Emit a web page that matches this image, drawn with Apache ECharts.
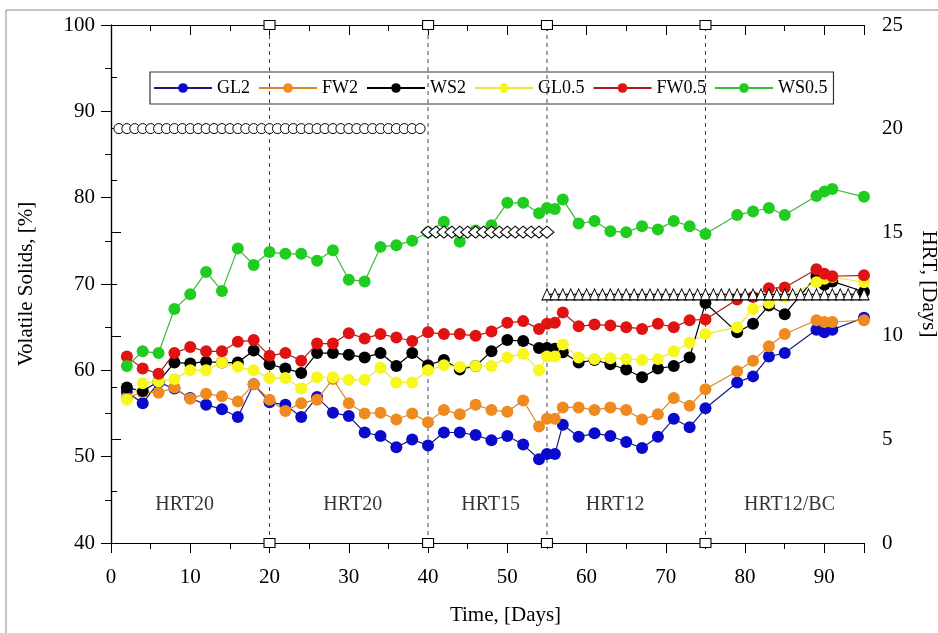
<!DOCTYPE html>
<html>
<head>
<meta charset="utf-8">
<script src="https://cdn.jsdelivr.net/npm/echarts@6/dist/echarts.min.js"></script>
<style>
	html, body { margin: 0; padding: 0; background: #fff; }
	#chart { width: 938px; height: 633px; }
</style>
</head>
<body>
<div id="chart"></div>
<script>
var days = [2, 4, 6, 8, 10, 12, 14, 16, 18, 20, 22, 24, 26, 28, 30, 32, 34, 36, 38, 40, 42, 44, 46, 48, 50, 52, 54, 55, 56, 57, 59, 61, 63, 65, 67, 69, 71, 73, 75, 79, 81, 83, 85, 89, 90, 91, 95];

var gl2 = [57.5, 56.2, 58.6, 57.9, 56.8, 56.0, 55.5, 54.6, 58.4, 56.3, 56.0, 54.6, 56.9, 55.1, 54.7, 52.8, 52.4, 51.1, 52.0, 51.3, 52.8, 52.8, 52.5, 51.9, 52.4, 51.4, 49.7, 50.3, 50.3, 53.7, 52.3, 52.7, 52.4, 51.7, 51.0, 52.3, 54.4, 53.4, 55.6, 58.6, 59.3, 61.6, 62.0, 64.7, 64.4, 64.7, 66.1];
var fw2 = [56.8, 57.5, 57.4, 58.0, 56.7, 57.3, 57.0, 56.4, 58.4, 56.6, 55.3, 56.2, 56.6, 59.0, 56.2, 55.0, 55.1, 54.3, 55.0, 54.0, 55.4, 54.9, 56.0, 55.4, 55.2, 56.5, 53.5, 54.4, 54.4, 55.7, 55.7, 55.4, 55.7, 55.4, 54.3, 54.9, 56.8, 55.9, 57.8, 59.9, 61.1, 62.8, 64.2, 65.8, 65.6, 65.6, 65.8];
var ws2 = [58.0, 57.6, 58.7, 60.9, 60.8, 61.0, 60.9, 60.9, 62.3, 60.7, 60.2, 59.7, 62.0, 62.0, 61.8, 61.5, 62.0, 60.5, 62.0, 60.6, 61.2, 60.1, 60.5, 62.2, 63.5, 63.4, 62.6, 62.6, 62.5, 62.1, 60.9, 61.2, 60.7, 60.1, 59.2, 60.2, 60.5, 61.5, 67.8, 64.4, 65.4, 67.5, 66.5, 70.9, 69.9, 70.3, 69.1];
var gl05 = [56.6, 58.5, 58.7, 59.0, 60.0, 60.0, 60.9, 60.4, 60.0, 59.1, 59.1, 57.9, 59.2, 59.2, 58.9, 58.9, 60.3, 58.6, 58.6, 60.0, 60.6, 60.4, 60.5, 60.5, 61.5, 61.9, 60.0, 61.6, 61.6, 63.0, 61.5, 61.3, 61.4, 61.3, 61.2, 61.3, 62.2, 63.2, 64.2, 65.0, 67.1, 67.8, 68.5, 70.2, 70.6, 70.8, 70.2];
var fw05 = [61.6, 60.2, 59.6, 62.0, 62.7, 62.2, 62.2, 63.3, 63.5, 61.7, 62.0, 61.1, 63.1, 63.1, 64.3, 63.7, 64.2, 63.8, 63.4, 64.4, 64.2, 64.2, 64.0, 64.5, 65.5, 65.7, 64.8, 65.4, 65.5, 66.7, 65.1, 65.3, 65.2, 65.0, 64.8, 65.4, 65.0, 65.8, 65.9, 68.2, 68.5, 69.5, 69.6, 71.7, 71.2, 70.9, 71.0];
var ws05 = [60.5, 62.2, 62.0, 67.1, 68.8, 71.4, 69.2, 74.1, 72.2, 73.7, 73.5, 73.5, 72.7, 73.9, 70.5, 70.3, 74.3, 74.5, 75.0, 76.0, 77.2, 74.9, 76.2, 76.8, 79.4, 79.4, 78.2, 78.8, 78.7, 79.8, 77.0, 77.3, 76.1, 76.0, 76.7, 76.3, 77.3, 76.7, 75.8, 78.0, 78.4, 78.8, 78.0, 80.2, 80.7, 81.0, 80.1];

var seriesNames = ['GL2', 'FW2', 'WS2', 'GL0.5', 'FW0.5', 'WS0.5'];
var seriesColors = ['#0a0acd', '#ef8a21', '#000000', '#f7f71e', '#e01212', '#1fcc1f'];
var lineColors = ['#1a1a7a', '#d9872a', '#000000', '#e8e83a', '#a81c1c', '#3cb83c'];
var seriesValues = [gl2, fw2, ws2, gl05, fw05, ws05];

// HRT (right axis)
var hrt20Days = [1, 2, 3, 4, 5, 6, 7, 8, 9, 10, 11, 12, 13, 14, 15, 16, 17, 18, 19, 20, 21, 22, 23, 24, 25, 26, 27, 28, 29, 30, 31, 32, 33, 34, 35, 36, 37, 38, 39];
var hrt15Days = [40, 41, 42, 43, 44, 45, 46, 47, 48, 49, 50, 51, 52, 53, 54, 55];
var hrt12Days = [55, 56, 57, 58, 59, 60, 61, 62, 63, 64, 65, 66, 67, 68, 69, 70, 71, 72, 73, 74, 75, 76, 77, 78, 79, 80, 81, 82, 83, 84, 85, 86, 87, 88, 89, 90, 91, 92, 93, 94, 95];
var phaseChangeDays = [20, 40, 55, 75];
var hrtRange = [0, 25];

var phaseNames = ['HRT20', 'HRT20', 'HRT15', 'HRT12', 'HRT12/BC'];
var phaseLabelDays = [9.3, 30.5, 47.9, 63.6, 85.6];
var phaseLabelLevel = 44.4;

var xTicks = { min: 0, max: 95, interval: 10 };
var vsTicks = { min: 40, max: 100, interval: 10 };
var hrtTicks = { min: 0, max: 25, interval: 5 };

var FONT = '"Liberation Serif", "DejaVu Serif", serif';

var chart = echarts.init(document.getElementById('chart'));

function pairs(xs, ys) {
	return xs.map(function (x, i) { return [x, ys[i]]; });
}
function level(xs, v) {
	return xs.map(function (x) { return [x, v]; });
}

var series = [];

seriesNames.forEach(function (name, i) {
	series.push({
		name: name,
		type: 'line',
		xAxisIndex: 0,
		yAxisIndex: 0,
		data: pairs(days, seriesValues[i]),
		symbol: 'circle',
		symbolSize: 12,
		itemStyle: { color: seriesColors[i], borderColor: seriesColors[i], borderWidth: 0 },
		lineStyle: { color: lineColors[i], width: 1.2 },
		z: 3 + i,
		animation: false
	});
});

phaseChangeDays.forEach(function (d) {
	series.push({
		type: 'line',
		xAxisIndex: 0,
		yAxisIndex: 1,
		data: [[d, hrtRange[0]], [d, hrtRange[1]]],
		symbol: 'rect',
		symbolSize: [11, 9],
		clip: false,
		itemStyle: { color: '#fff', borderColor: '#000', borderWidth: 1 },
		lineStyle: { color: '#444', width: 1, type: [4, 4] },
		z: 2,
		silent: true,
		animation: false
	});
});

var hrtMarkers = [
	{ days: hrt20Days, v: 20, symbol: 'circle', size: 10 },
	{ days: hrt15Days, v: 15, symbol: 'diamond', size: [14, 12] },
	{ days: hrt12Days, v: 12, symbol: 'triangle', size: [10, 11] }
];
hrtMarkers.forEach(function (h) {
	series.push({
		type: 'line',
		xAxisIndex: 0,
		yAxisIndex: 1,
		data: level(h.days, h.v),
		symbol: h.symbol,
		symbolSize: h.size,
		showAllSymbol: true,
		itemStyle: { color: '#fff', borderColor: '#000', borderWidth: 1 },
		lineStyle: { color: '#000', width: 1.2 },
		z: 12,
		silent: true,
		animation: false
	});
});

series.push({
	type: 'scatter',
	xAxisIndex: 0,
	yAxisIndex: 0,
	symbolSize: 0,
	data: phaseLabelDays.map(function (d, i) { return { value: [d, phaseLabelLevel], name: phaseNames[i] }; }),
	label: {
		show: true,
		position: 'inside',
		formatter: '{b}',
		fontFamily: FONT,
		fontSize: 20,
		color: '#000'
	},
	silent: true,
	animation: false
});

var tickStyle = { lineStyle: { color: '#000', width: 1 } };

option = {
	backgroundColor: '#fff',
	animation: false,
	textStyle: { fontFamily: FONT },
	grid: { left: 111, right: 74, top: 25, bottom: 90, show: false, outerBoundsMode: 'none' },
	legend: {
		data: seriesNames,
		left: 150,
		top: 72,
		padding: [7, 6, 7, 3],
		itemGap: 8,
		itemWidth: 58,
		itemHeight: 12,
		borderColor: '#333',
		borderWidth: 1.2,
		textStyle: { fontFamily: FONT, fontSize: 18, color: '#000' }
	},
	xAxis: [
		{
			type: 'value',
			position: 'bottom',
			min: xTicks.min, max: xTicks.max, interval: xTicks.interval,
			name: 'Time, [Days]',
			nameLocation: 'middle',
			nameGap: 62,
			nameTextStyle: { fontFamily: FONT, fontSize: 21, color: '#000', padding: [0, 0, 0, 36] },
			axisLine: { lineStyle: { color: '#000', width: 1.2 } },
			axisTick: { show: true, length: 10, lineStyle: tickStyle.lineStyle },
			minorTick: { show: true, splitNumber: 2, length: 6, lineStyle: tickStyle.lineStyle },
			axisLabel: { fontFamily: FONT, fontSize: 21, color: '#000', margin: 24, showMaxLabel: false },
			splitLine: { show: false }
		},
		{
			type: 'value',
			position: 'top',
			min: xTicks.min, max: xTicks.max, interval: xTicks.interval,
			axisLine: { lineStyle: { color: '#000', width: 1.2 } },
			axisTick: { show: true, inside: true, length: 10, lineStyle: tickStyle.lineStyle },
			minorTick: { show: true, splitNumber: 2, length: 6, lineStyle: tickStyle.lineStyle },
			axisLabel: { show: false },
			splitLine: { show: false }
		}
	],
	yAxis: [
		{
			type: 'value',
			position: 'left',
			min: vsTicks.min, max: vsTicks.max, interval: vsTicks.interval,
			name: 'Volatile Solids, [%]',
			nameLocation: 'middle',
			nameGap: 74,
			nameTextStyle: { fontFamily: FONT, fontSize: 21, color: '#000' },
			axisLine: { show: true, lineStyle: { color: '#000', width: 1.2 } },
			axisTick: { show: true, length: 10, lineStyle: tickStyle.lineStyle },
			minorTick: { show: true, splitNumber: 2, length: 6, lineStyle: tickStyle.lineStyle },
			axisLabel: { fontFamily: FONT, fontSize: 21, color: '#000', margin: 16 },
			splitLine: { show: false }
		},
		{
			type: 'value',
			position: 'right',
			min: hrtTicks.min, max: hrtTicks.max, interval: hrtTicks.interval,
			name: 'HRT, [Days]',
			nameLocation: 'middle',
			nameRotate: -90,
			nameGap: 54,
			nameTextStyle: { fontFamily: FONT, fontSize: 21, color: '#000' },
			axisLine: { show: true, lineStyle: { color: '#000', width: 1.2 } },
			axisTick: { show: true, length: 10, lineStyle: tickStyle.lineStyle },
			minorTick: { show: true, splitNumber: 2, length: 6, lineStyle: tickStyle.lineStyle },
			axisLabel: { fontFamily: FONT, fontSize: 21, color: '#000', margin: 18 },
			splitLine: { show: false }
		}
	],
	graphic: [
		{
			type: 'rect',
			shape: { x: 6, y: 10, width: 960, height: 660 },
			style: { fill: 'none', stroke: '#888', lineWidth: 1 },
			silent: true
		}
	],
	series: series
};

chart.setOption(option);

window.onresize = function () {
	chart.resize();
};
</script>
</body>
</html>
